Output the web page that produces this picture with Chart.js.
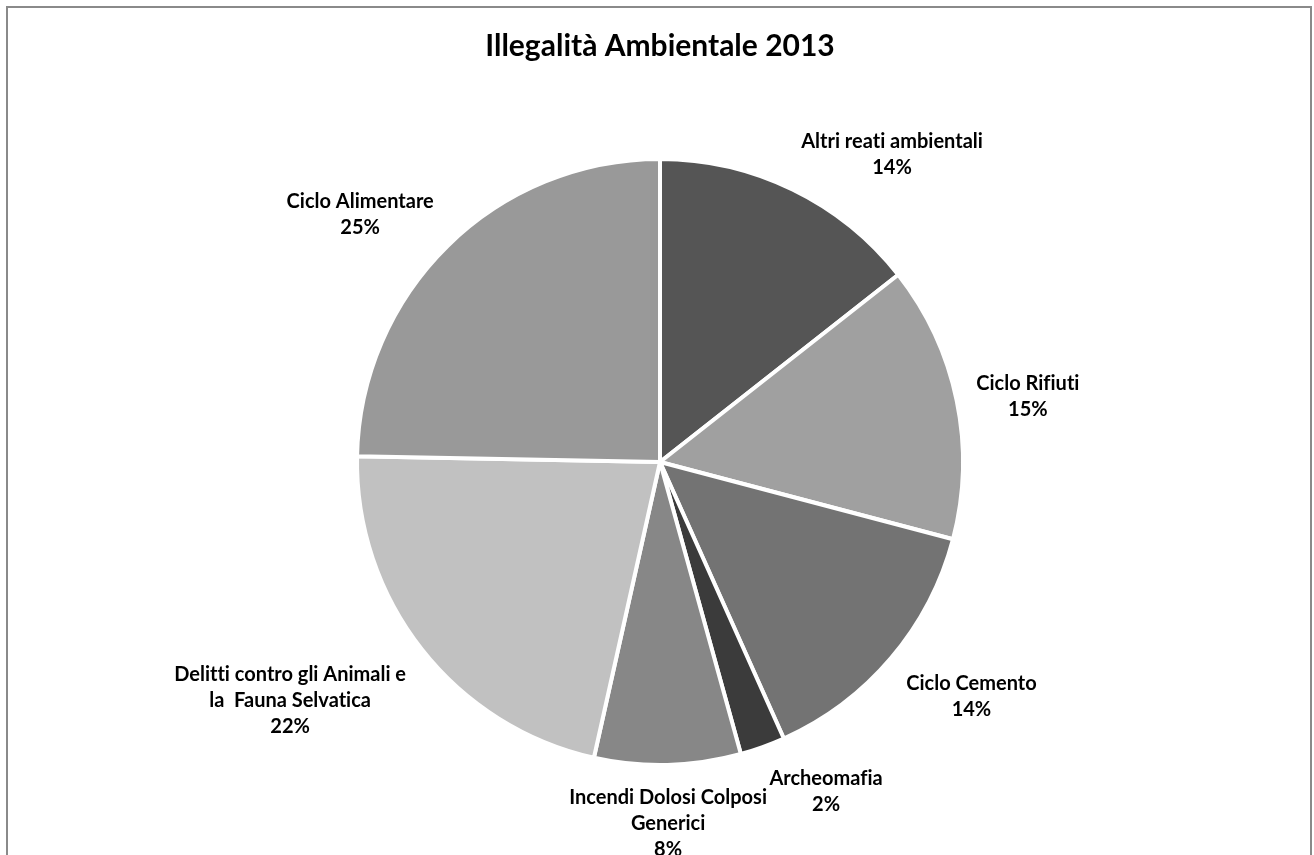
<!DOCTYPE html>
<html>
<head>
<meta charset="utf-8">
<title>Illegalità Ambientale 2013</title>
<script src="https://cdn.jsdelivr.net/npm/chart.js@4/dist/chart.umd.min.js"></script>
<style>
  html, body { margin:0; padding:0; background:#fff; overflow:hidden; }
  #frame { position:absolute; left:6px; top:6px; width:1306px; height:900px; border:2px solid #8a8a8a; box-sizing:border-box; }
  #wrap { position:absolute; left:0; top:0; width:1314px; height:855px; }
</style>
</head>
<body>
<div id="frame"></div>
<div id="wrap"><canvas id="chart-pie"></canvas></div>
<script>
// categorie (righe già spezzate come nell'originale)
const categories = [
  ['Altri reati ambientali'],
  ['Ciclo Rifiuti'],
  ['Ciclo Cemento'],
  ['Archeomafia'],
  ['Incendi Dolosi Colposi', 'Generici'],
  ['Delitti contro gli Animali e', 'la  Fauna Selvatica'],
  ['Ciclo Alimentare']
];
// quote stimate dal grafico (%)
const shares = [14.4, 14.7, 14.2, 2.4, 7.8, 21.8, 24.7];
const sliceColors = ['#555555', '#a0a0a0', '#737373', '#3b3b3b', '#878787', '#c1c1c1', '#999999'];

// etichette esterne stile Excel: nome + percentuale
const outsideLabels = {
  id: 'outsideLabels',
  afterDatasetsDraw(chart, args, opts){
    const ctx = chart.ctx;
    const meta = chart.getDatasetMeta(0);
    const data = chart.data.datasets[0].data;
    const total = data.reduce((a, b) => a + b, 0);
    ctx.save();
    ctx.font = opts.font;
    ctx.fillStyle = opts.color;
    ctx.textBaseline = 'middle';
    if('textRendering' in ctx) ctx.textRendering = 'optimizeSpeed'; // niente legature "fi"
    meta.data.forEach((arc, i) => {
      const p = arc.getProps(['x', 'y', 'startAngle', 'endAngle', 'outerRadius'], true);
      const mid = (p.startAngle + p.endAngle) / 2;
      const cx = Math.cos(mid), cy = Math.sin(mid);
      const ax = p.x + cx * (p.outerRadius + opts.gap);
      const ay = p.y + cy * (p.outerRadius + opts.gap);
      const lines = [].concat(chart.data.labels[i], Math.round(data[i] / total * 100) + '%');
      const h = lines.length * opts.lineHeight;
      let top;
      if(cy < -0.3) top = ay - h + opts.upperDrop;
      else if(cy > 0.3) top = ay;
      else top = ay - h / 2;
      let w = 0;
      lines.forEach(l => { w = Math.max(w, ctx.measureText(l).width); });
      let left;
      if(cx > 0.3) left = ax;
      else if(cx < -0.3) left = ax - w;
      else left = ax - w / 2;
      ctx.textAlign = 'center';
      lines.forEach((l, k) => {
        ctx.fillText(l, left + w / 2, top + opts.lineHeight * (k + 0.5));
      });
    });
    ctx.restore();
  }
};

new Chart(document.getElementById('chart-pie'), {
  type: 'pie',
  data: {
    labels: categories,
    datasets: [{
      data: shares,
      backgroundColor: sliceColors,
      borderColor: '#ffffff',
      borderWidth: 4
    }]
  },
  options: {
    responsive: true,
    maintainAspectRatio: false,
    animation: false,
    layout: { padding: { left: 355, right: 349, top: 0, bottom: 88 } },
    plugins: {
      legend: { display: false },
      tooltip: { enabled: false },
      title: {
        display: true,
        text: 'Illegalità Ambientale 2013',
        color: '#000',
        font: { family: 'Lato', size: 30, weight: 'bold', lineHeight: 1.2 },
        padding: { top: 28, bottom: 93 }
      },
      outsideLabels: { font: 'bold 20px Lato', color: '#000', lineHeight: 26, gap: 20, upperDrop: 9 }
    }
  },
  plugins: [outsideLabels]
});
</script>
</body>
</html>
